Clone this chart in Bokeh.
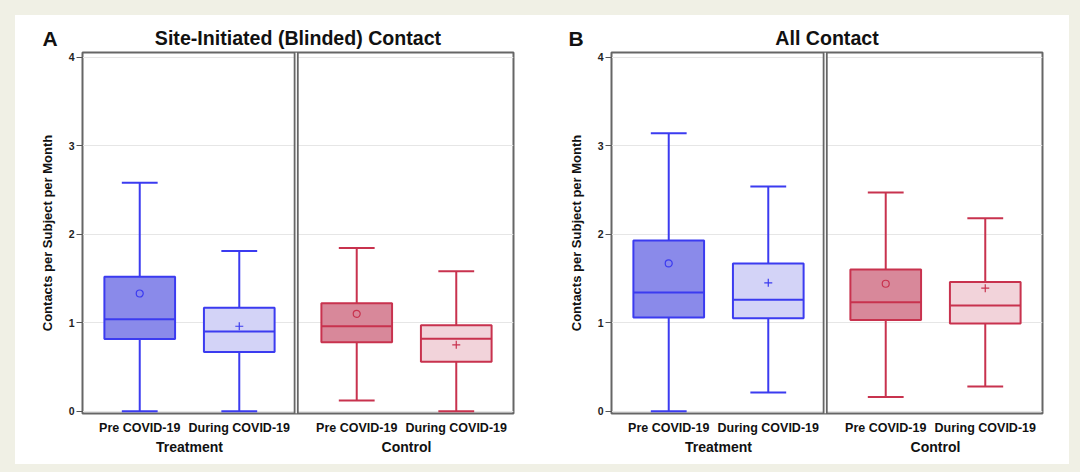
from bokeh.plotting import figure
from bokeh.models import FactorRange, Range1d, Span, Title, ColumnDataSource
from bokeh.layouts import row
from bokeh.embed import file_html
from bokeh.resources import INLINE

# ---------------- data ----------------
groups = ["Treatment", "Treatment", "Control", "Control"]
periods = ["Pre COVID-19", "During COVID-19", "Pre COVID-19", "During COVID-19"]
y_ticks = [0, 1, 2, 3, 4]

# Panel A: Site-Initiated (Blinded) Contact
a_lower = [0.0, 0.0, 0.12, 0.0]
a_q1 = [0.815, 0.67, 0.78, 0.56]
a_median = [1.04, 0.90, 0.96, 0.82]
a_q3 = [1.52, 1.17, 1.22, 0.97]
a_upper = [2.58, 1.81, 1.845, 1.58]
a_mean = [1.33, 0.96, 1.10, 0.75]

# Panel B: All Contact
b_lower = [0.0, 0.21, 0.16, 0.28]
b_q1 = [1.06, 1.05, 1.03, 0.99]
b_median = [1.34, 1.26, 1.23, 1.195]
b_q3 = [1.93, 1.67, 1.60, 1.46]
b_upper = [3.14, 2.54, 2.47, 2.18]
b_mean = [1.67, 1.45, 1.44, 1.39]

line_colors = ["#3b3bf0", "#3b3bf0", "#c8324e", "#c8324e"]
fill_colors = ["#8a8aea", "#d3d3f7", "#d8889a", "#f2d3da"]

FONT = "Liberation Sans"
BOX_W = 0.71
CAP_HALF = 0.18
GROUP_PAD = 0.18
RANGE_PAD = 0.075
FIG_H = 449
Y_START, Y_END = -0.026, 4.053


def make_panel(title, letter, letter_off, lower, q1, median, q3, upper, mean, width, ml, mr):
    factors = list(zip(groups, periods))
    xr = FactorRange(*factors, group_padding=GROUP_PAD, factor_padding=0,
                     range_padding=RANGE_PAD, range_padding_units="absolute")
    p = figure(x_range=xr, y_range=Range1d(Y_START, Y_END),
               width=width, height=FIG_H,
               min_border_left=ml, min_border_right=mr,
               min_border_top=37, min_border_bottom=51,
               output_backend="svg", toolbar_location=None)
    p.background_fill_color = "white"
    p.border_fill_color = "white"
    p.outline_line_color = "#666666"
    p.outline_line_width = 2

    # main title (closest to the frame)
    p.add_layout(Title(text=title, align="center", vertical_align="bottom",
                       text_font=FONT, text_font_size="19.6px", text_font_style="bold",
                       text_color="#111111", standoff=7), "above")
    # panel letter, stacked outside but pulled back down onto the same line
    p.add_layout(Title(text=letter, align="left", vertical_align="bottom", offset=letter_off,
                       text_font=FONT, text_font_size="21px", text_font_style="bold",
                       text_color="#111111", standoff=-56), "above")

    p.xgrid.grid_line_color = None
    p.ygrid.grid_line_color = "#e6e6e6"
    p.ygrid.grid_line_width = 1

    # y axis
    p.yaxis.ticker = y_ticks
    p.yaxis.axis_label = "Contacts per Subject per Month"
    p.yaxis.axis_label_text_font = FONT
    p.yaxis.axis_label_text_font_size = "13px"
    p.yaxis.axis_label_text_font_style = "bold"
    p.yaxis.axis_label_text_color = "#111111"
    p.yaxis.axis_label_standoff = 11
    p.yaxis.major_label_text_font = FONT
    p.yaxis.major_label_text_font_size = "10.5px"
    p.yaxis.major_label_text_font_style = "bold"
    p.yaxis.major_label_text_color = "#222222"
    p.yaxis.major_label_standoff = 2
    p.yaxis.major_tick_out = 6
    p.yaxis.major_tick_in = 0
    p.yaxis.major_tick_line_color = "#555555"
    p.yaxis.minor_tick_line_color = None
    p.yaxis.axis_line_color = "#666666"

    # x axis (nested categories)
    p.xaxis.major_tick_line_color = None
    p.xaxis.minor_tick_line_color = None
    p.xaxis.axis_line_color = None
    p.xaxis.separator_line_color = None
    p.xaxis.major_label_text_font = FONT
    p.xaxis.major_label_text_font_size = "12.5px"
    p.xaxis.major_label_text_font_style = "bold"
    p.xaxis.major_label_text_color = "#111111"
    p.xaxis.major_label_standoff = 1
    p.xaxis.group_text_font = FONT
    p.xaxis.group_text_font_size = "14px"
    p.xaxis.group_text_font_style = "bold"
    p.xaxis.group_text_color = "#111111"

    # separator between the two groups (double line)
    sep = 2 + GROUP_PAD * 0.4
    p.add_layout(Span(location=sep, dimension="height", line_color="#666666", line_width=5))
    p.add_layout(Span(location=sep, dimension="height", line_color="white", line_width=1.4))

    src = ColumnDataSource(dict(
        x=factors,
        cap_l=[(g, c, -CAP_HALF) for g, c in factors],
        cap_r=[(g, c, CAP_HALF) for g, c in factors],
        box_l=[(g, c, -BOX_W / 2) for g, c in factors],
        box_r=[(g, c, BOX_W / 2) for g, c in factors],
        lower=lower, q1=q1, median=median, q3=q3, upper=upper, mean=mean,
        lc=line_colors, fc=fill_colors,
    ))

    # whisker stems
    p.segment(x0="x", x1="x", y0="q3", y1="upper", source=src, line_color="lc", line_width=2)
    p.segment(x0="x", x1="x", y0="lower", y1="q1", source=src, line_color="lc", line_width=2)
    # caps
    p.segment(x0="cap_l", x1="cap_r", y0="upper", y1="upper", source=src, line_color="lc", line_width=2)
    p.segment(x0="cap_l", x1="cap_r", y0="lower", y1="lower", source=src, line_color="lc", line_width=2)
    # boxes
    p.vbar(x="x", width=BOX_W, bottom="q1", top="q3", source=src,
           fill_color="fc", line_color="lc", line_width=2)
    # medians
    p.segment(x0="box_l", x1="box_r", y0="median", y1="median", source=src, line_color="lc", line_width=2)

    # means: circle for pre, cross for during
    pre_idx = [i for i, c in enumerate(periods) if c.startswith("Pre")]
    dur_idx = [i for i, c in enumerate(periods) if c.startswith("During")]
    p.scatter(x=[factors[i] for i in pre_idx], y=[mean[i] for i in pre_idx],
              marker="circle", size=7, fill_color=None,
              line_color=[line_colors[i] for i in pre_idx], line_width=1.2)
    p.scatter(x=[factors[i] for i in dur_idx], y=[mean[i] for i in dur_idx],
              marker="cross", size=8,
              line_color=[line_colors[i] for i in dur_idx], line_width=1.2)
    return p


pA = make_panel("Site-Initiated (Blinded) Contact", "A", -40,
                a_lower, a_q1, a_median, a_q3, a_upper, a_mean, 545, 67, 47)
pB = make_panel("All Contact", "B", -43,
                b_lower, b_q1, b_median, b_q3, b_upper, b_mean, 509, 51, 27)

layout = row(pA, pB, spacing=0, styles={"background-color": "white"})

html = file_html(layout, INLINE)
html = html.replace("</head>",
                    "<style>body{background:#f0f0e5;margin:15px 0 0 15px;}</style></head>", 1)
open("out.html", "w").write(html)
